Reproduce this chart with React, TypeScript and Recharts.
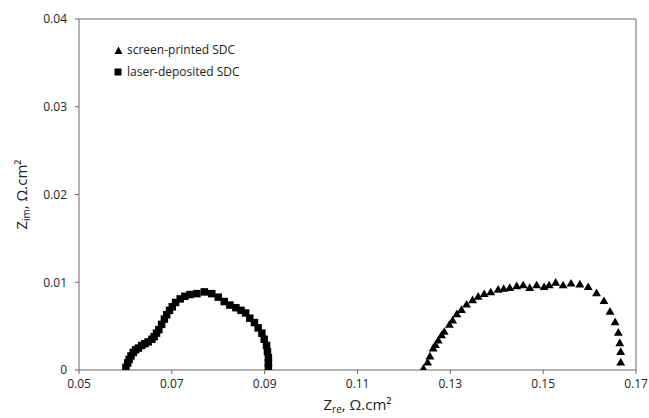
import { ScatterChart, Scatter, XAxis, YAxis, ReferenceLine, Symbols, Label } from "recharts";

const FONT = "'Open Sans', sans-serif";

const xTicks = [0.05, 0.07, 0.09, 0.11, 0.13, 0.15, 0.17];
const yTicks = [0, 0.01, 0.02, 0.03, 0.04];

// screen-printed SDC (triangles)
const screenX = [0.1242, 0.1251, 0.1256, 0.1263, 0.1268, 0.1274, 0.1281, 0.1287, 0.1298, 0.1305,
  0.1314, 0.1324, 0.1335, 0.1348, 0.136, 0.1373, 0.1387, 0.1403, 0.1415, 0.1428,
  0.1443, 0.1457, 0.1471, 0.1486, 0.1502, 0.1513, 0.1527, 0.1543, 0.156, 0.1579,
  0.1597, 0.1615, 0.1631, 0.1644, 0.1655, 0.1662, 0.1665, 0.1667, 0.1667];
const screenY = [0.0001, 0.0008, 0.0015, 0.0024, 0.0028, 0.0033, 0.0039, 0.0043, 0.0051, 0.0056,
  0.0063, 0.0068, 0.0074, 0.0079, 0.0083, 0.0086, 0.0088, 0.0091, 0.0092, 0.0093,
  0.0095, 0.0096, 0.0093, 0.0096, 0.0094, 0.0096, 0.0099, 0.0096, 0.0098, 0.0097,
  0.0094, 0.0087, 0.0078, 0.0066, 0.0054, 0.0042, 0.003, 0.002, 0.0008];

// laser-deposited SDC (squares)
const laserX = [0.0601, 0.0605, 0.0608, 0.0612, 0.0617, 0.0622, 0.0628, 0.0635, 0.0642, 0.0649,
  0.0657, 0.0662, 0.0667, 0.0672, 0.0678, 0.0684, 0.0689, 0.0695, 0.0701, 0.0708,
  0.0718, 0.0728, 0.0739, 0.0754, 0.077, 0.0786, 0.08, 0.0813, 0.0825, 0.0838,
  0.0849, 0.0859, 0.0868, 0.0878, 0.0886, 0.0894, 0.0899, 0.0904, 0.0906, 0.0908,
  0.0908, 0.0908];
const laserY = [0.0003, 0.0008, 0.0012, 0.0016, 0.002, 0.0023, 0.0025, 0.0028, 0.003, 0.0032,
  0.0035, 0.0038, 0.0042, 0.0046, 0.0052, 0.0058, 0.0063, 0.0068, 0.0072, 0.0077,
  0.0081, 0.0084, 0.0086, 0.0087, 0.0089, 0.0087, 0.0083, 0.0078, 0.0074, 0.0071,
  0.0068, 0.0065, 0.0059, 0.0054, 0.0048, 0.0042, 0.0035, 0.0028, 0.0021, 0.0014,
  0.0008, 0.0003];

const screenData = screenX.map((x, i) => ({ x, y: screenY[i] }));
const laserData = laserX.map((x, i) => ({ x, y: laserY[i] }));

const AXIS = "#666";

const Triangle = (props: any) => (
  <Symbols cx={props.cx} cy={props.cy} type="triangle" size={34} fill="#000" />
);
const Square = (props: any) => (
  <Symbols cx={props.cx} cy={props.cy} type="square" size={56} fill="#000" />
);

// legend drawn as an overlay so it doesn't eat plot space
const LegendBox = () => (
  <div style={{ position: "absolute", left: 114, top: 39, fontFamily: FONT, fontSize: 12, color: "#222", lineHeight: "22px" }}>
    <div style={{ display: "flex", alignItems: "center" }}>
      <svg width={9} height={9} style={{ marginRight: 4 }}>
        <polygon points="4.5,0.5 8.5,8 0.5,8" fill="#000" />
      </svg>
      screen-printed SDC
    </div>
    <div style={{ display: "flex", alignItems: "center" }}>
      <svg width={9} height={9} style={{ marginRight: 4 }}>
        <rect x={0.5} y={0.5} width={7} height={7} fill="#000" />
      </svg>
      laser-deposited SDC
    </div>
  </div>
);

const XTitle = ({ viewBox }: any) => {
  const cx = viewBox.x + viewBox.width / 2;
  return (
    <text x={cx} y={410} textAnchor="middle" fontFamily={FONT} fontSize={15} fill="#222">
      Z<tspan fontSize={10} dy={3}>re</tspan>
      <tspan dy={-3}>, Ω.cm²</tspan>
    </text>
  );
};

const YTitle = ({ viewBox }: any) => {
  const cy = viewBox.y + viewBox.height / 2;
  return (
    <text x={27} y={cy} transform={`rotate(-90, 27, ${cy})`} textAnchor="middle" fontFamily={FONT} fontSize={15} fill="#222">
      Z<tspan fontSize={10} dy={3}>im</tspan>
      <tspan dy={-3}>, Ω.cm²</tspan>
    </text>
  );
};

export default function App() {
  return (
    <div style={{ position: "absolute", left: 0, top: 0, width: 649, height: 418, background: "#fff" }}>
      <ScatterChart width={649} height={418} margin={{ top: 19, right: 13, bottom: 0, left: 0 }}>
        <XAxis
          type="number"
          dataKey="x"
          domain={[0.05, 0.17]}
          ticks={xTicks}
          tickFormatter={(v) => v.toFixed(2)}
          height={48}
          stroke={AXIS}
          tickSize={4}
          tickMargin={5}
          tick={{ fill: "#222", fontSize: 12, fontFamily: FONT }}
          allowDataOverflow
        >
          <Label content={<XTitle />} />
        </XAxis>
        <YAxis
          type="number"
          dataKey="y"
          domain={[0, 0.04]}
          ticks={yTicks}
          tickFormatter={(v) => (v === 0 ? "0" : v.toFixed(2))}
          width={79}
          stroke={AXIS}
          tickSize={4}
          tickMargin={8}
          tick={{ fill: "#222", fontSize: 12, fontFamily: FONT }}
          allowDataOverflow
        >
          <Label content={<YTitle />} />
        </YAxis>
        <ReferenceLine y={0.04} stroke={AXIS} />
        <ReferenceLine x={0.17} stroke={AXIS} />
        <Scatter name="screen-printed SDC" data={screenData} shape={<Triangle />} isAnimationActive={false} />
        <Scatter name="laser-deposited SDC" data={laserData} shape={<Square />} isAnimationActive={false} />
      </ScatterChart>
      <LegendBox />
    </div>
  );
}
